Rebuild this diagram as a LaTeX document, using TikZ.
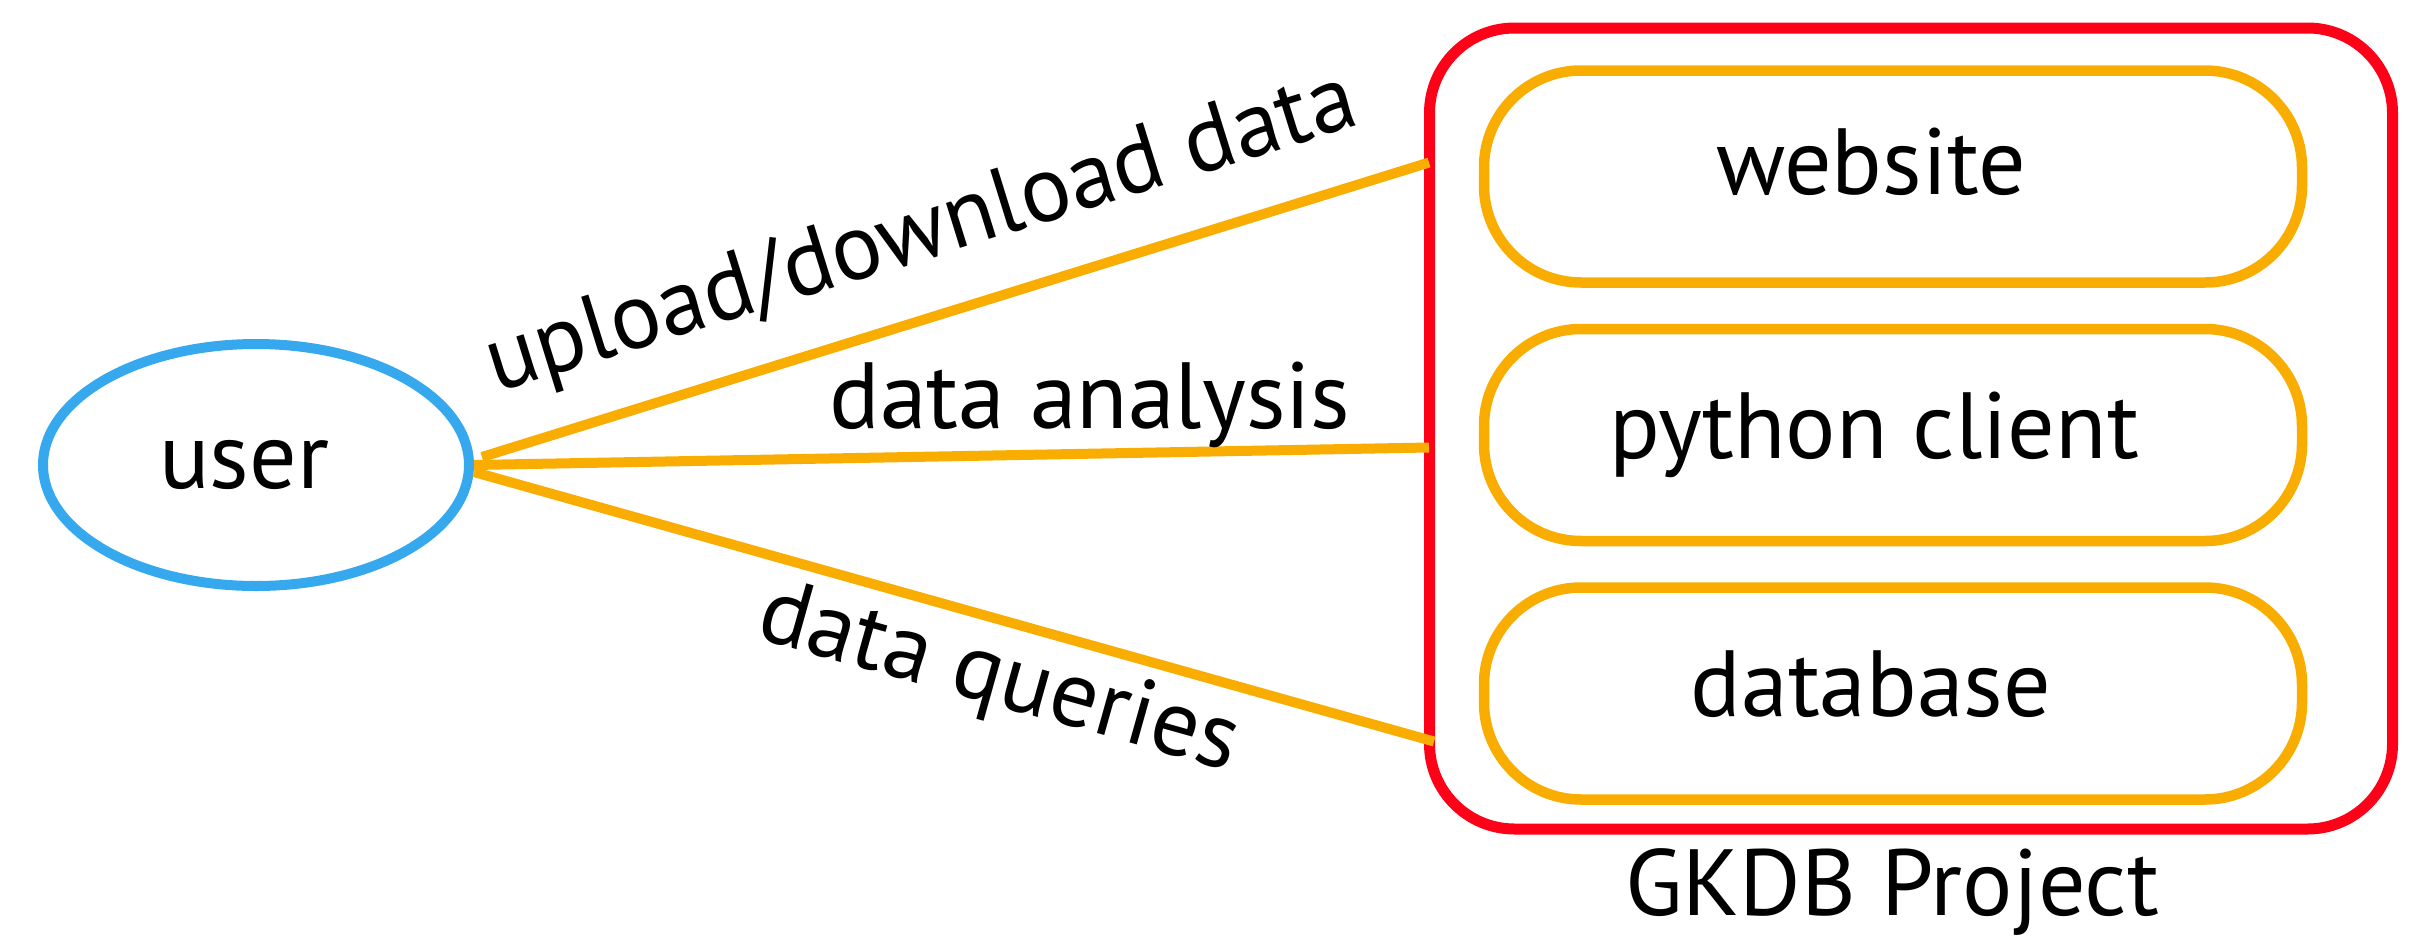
\documentclass[tikz,border=0pt]{standalone}
\usepackage{fontspec}
\setmainfont{PT Sans}
\usetikzlibrary{positioning,calc,shapes.geometric}

\definecolor{userblue}{HTML}{36A9EE}
\definecolor{linkorange}{HTML}{F9AD00}
\definecolor{projred}{HTML}{FF0019}

\begin{document}
\begin{tikzpicture}[
    x=1pt, y=-1pt,
    every node/.style={font=\fontsize{94}{104}\selectfont},
    actor/.style={draw=userblue, line width=10pt, ellipse, minimum width=426pt,
      minimum height=242pt},
    project/.style={draw=projred, line width=11pt, rectangle, rounded corners=85pt,
      minimum width=963pt, minimum height=801pt},
    part/.style={draw=linkorange, line width=10.5pt, rectangle, rounded corners=97pt,
      minimum width=818pt, minimum height=212pt},
    link/.style={draw=linkorange, line width=10pt},
    linktext/.style={inner sep=0pt}
  ]
    \useasboundingbox (0,0) rectangle (2429,937);

    \node[actor] (user) at (256,465) {\hspace*{-24pt}user};
    \node[project] (gkdb) at (1911,428.5) {};
    \node[part] (website) at (1893,176.5)
      {\hspace*{-44pt}\raisebox{15pt}[\height][\depth]{website}};
    \node[part, below=36pt of website] (client) {\hspace*{-38pt}python client};
    \node[part, below=36pt of client] (database)
      {\hspace*{-44pt}\raisebox{9pt}[\height][\depth]{database}};
    \node[linktext, below=14pt of gkdb, xshift=-19pt] (title) {GKDB Project};

    \draw[link] ([xshift=8pt, yshift=8pt]user.east)
      -- node[linktext, pos=0.49, sloped, above=33pt] {upload/download data}
      ([xshift=5pt, yshift=266pt]gkdb.west);
    \draw[link] (user.east)
      -- node[linktext, pos=0.645, above=1pt] {data analysis}
      ([xshift=5pt, yshift=-19pt]gkdb.west);
    \draw[link] ([yshift=-7pt]user.east)
      -- node[linktext, pos=0.563, sloped, below=12pt] {data queries}
      ([xshift=10pt, yshift=-313pt]gkdb.west);
  \end{tikzpicture}
\end{document}
